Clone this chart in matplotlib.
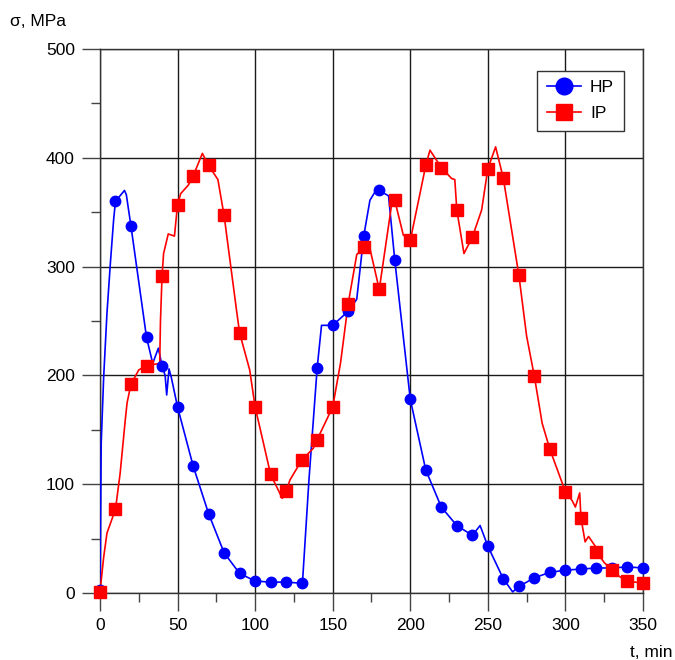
import numpy as np
import matplotlib.pyplot as plt
from matplotlib.ticker import MultipleLocator

plt.rcParams['font.family'] = ['Liberation Sans', 'DejaVu Sans']

# stress readings taken every 10 min (marker points)
t_marks = list(range(0, 351, 10))
hp_marks = [3, 360, 337, 235, 209, 171, 117, 73, 37, 18,
            11, 10, 10, 9, 207, 246, 259, 328, 370, 306,
            178, 113, 79, 62, 53, 43, 13, 6, 14, 19,
            21, 22, 23, 23, 24, 23]
ip_marks = [1, 77, 192, 209, 291, 357, 383, 393, 347, 239,
            171, 109, 94, 122, 141, 171, 266, 318, 279, 361,
            324, 393, 391, 352, 327, 390, 381, 292, 199, 132,
            93, 69, 38, 21, 11, 9]

# intermediate points of the continuous recordings
hp_extra_t = [0.8, 2.4, 4.5, 6.7, 8.8, 15.8, 17.0, 34.0, 37.6, 42.0, 43.0,
              44.5, 46.0, 130.5, 134.7, 142.8, 165.5, 174.0, 177.0, 186.0,
              245.0, 266.0]
hp_extra = [138, 199, 257, 303, 343, 370, 366, 211, 225, 200, 182,
            206, 198, 9, 104, 246, 270, 361, 368, 365,
            62, 1]
ip_extra_t = [2.4, 4.5, 13.0, 16.3, 17.5, 25.0, 38.5, 39.0, 41.0, 44.0, 48.0,
              52.0, 57.0, 66.0, 76.0, 88.0, 96.5, 117.5, 122.5, 137.5,
              155.0, 165.5, 172.0, 188.6, 195.5, 212.7, 226.6, 228.7, 234.6,
              246.0, 255.0, 275.0, 285.0, 304.3, 306.4, 309.2, 312.7, 314.9,
              319.7, 325.0, 335.0, 345.0]
ip_extra = [33, 55, 110, 159, 175, 205, 211, 250, 312, 330, 328,
            367, 375, 404, 380, 260, 205, 87, 104, 133,
            211, 311, 329, 363, 329, 407, 381, 380, 312,
            352, 410, 236, 156, 85, 79, 92, 47, 52,
            42, 28, 15, 10]


def merge(t_a, v_a, t_b, v_b):
    t = np.array(list(t_a) + list(t_b), dtype=float)
    v = np.array(list(v_a) + list(v_b), dtype=float)
    order = np.argsort(t, kind='stable')
    return t[order], v[order]


hp_t, hp_v = merge(t_marks, hp_marks, hp_extra_t, hp_extra)
ip_t, ip_v = merge(t_marks, ip_marks, ip_extra_t, ip_extra)

fig = plt.figure(figsize=(6.75, 6.6), dpi=100)
ax = fig.add_axes([0.1481, 0.1015, 0.8045, 0.8243])

ax.plot(hp_t, hp_v, color='#0000ff', lw=1.2, zorder=3)
ax.plot(t_marks, hp_marks, 'o', color='#0000ff', ms=7.5, mec='#0000ff',
        zorder=4, clip_on=False)
ax.plot(ip_t, ip_v, color='#ff0000', lw=1.2, zorder=3)
ax.plot(t_marks, ip_marks, 's', color='#ff0000', ms=8, mec='#ff0000',
        zorder=4, clip_on=False)

# legend handles combining line and marker
h1, = ax.plot([], [], '-o', color='#0000ff', lw=1.2, ms=12)
h2, = ax.plot([], [], '-s', color='#ff0000', lw=1.2, ms=11.5)
leg = ax.legend([h1, h2], ['HP', 'IP'], loc='upper left',
                bbox_to_anchor=(0.805, 0.96), fancybox=False, framealpha=1,
                edgecolor='#333333', fontsize=12.5, handlelength=2.0,
                borderpad=0.55, labelspacing=0.6, handletextpad=0.5,
                borderaxespad=0)
leg.get_frame().set_linewidth(1.0)

ax.set_xlim(0, 350)
ax.set_ylim(0, 500)
ax.xaxis.set_major_locator(MultipleLocator(50))
ax.xaxis.set_minor_locator(MultipleLocator(25))
ax.yaxis.set_major_locator(MultipleLocator(100))
ax.yaxis.set_minor_locator(MultipleLocator(50))
ax.tick_params(which='major', length=13, width=1, color='#444444',
               labelsize=12.5, pad=5)
ax.tick_params(which='minor', length=6.5, width=1, color='#444444')
ax.grid(True, which='major', color='#1a1a1a', lw=1.0)
for s in ax.spines.values():
    s.set_color('#333333')
    s.set_linewidth(1.0)

fig.text(0.015, 0.967, 'σ, MPa', fontsize=12.5, va='center', ha='left')
fig.text(0.997, 0.012, 't, min', fontsize=12.5, va='center', ha='right')

fig.savefig('out.png', dpi=100)
